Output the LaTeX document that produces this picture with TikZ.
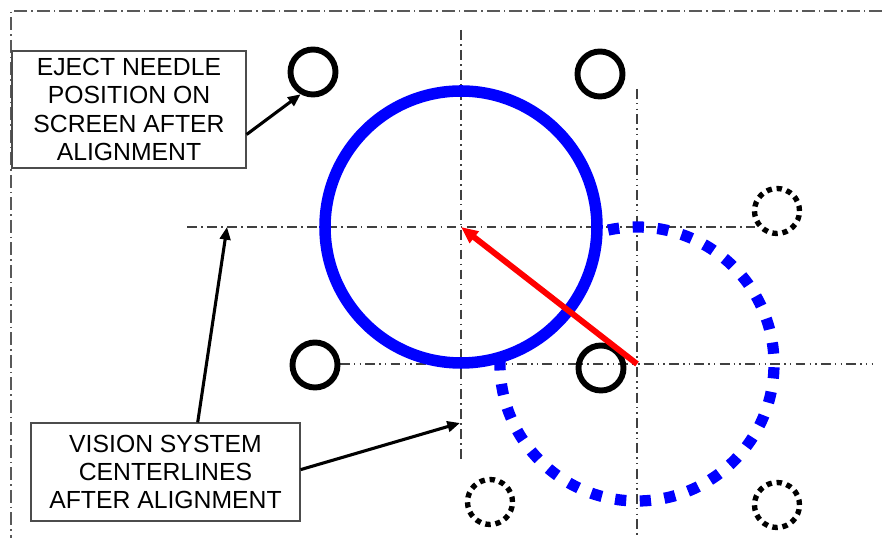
\documentclass[tikz,border=0pt]{standalone}
\usepackage{fontspec}
\setmainfont{Liberation Sans}
\usetikzlibrary{arrows.meta}
\definecolor{ringblue}{RGB}{0,0,255}
\definecolor{vecred}{RGB}{255,0,0}

\begin{document}
\begin{tikzpicture}[x=0.025cm, y=0.025cm, every node/.style={font=\fontsize{17.6}{20}\selectfont}]
  \tikzset{
    hole/.style={circle, draw, line width=4.2pt, minimum size=1.125cm, inner sep=0pt},
    oldhole/.style={hole, line width=3.8pt, dash pattern=on 3.8pt off 3.4pt},
    frameline/.style={black!65, line width=0.9pt, dash pattern=on 9pt off 3pt on 1pt off 3pt},
    centerline/.style={black!75, line width=0.9pt, dash pattern=on 7pt off 3pt on 1.2pt off 3pt},
    centerlinedd/.style={black!75, line width=0.9pt, dash pattern=on 7pt off 3pt on 1pt off 3pt on 1pt off 3pt},
    callout/.style={draw=black!70, line width=0.8pt, align=center, inner sep=0pt},
    leader/.style={-{Triangle[length=9pt,width=7.5pt]}, line width=2.2pt}
  }
  \useasboundingbox (0,0) rectangle (882,538);

  % --- frame (top and left edges only) ---
  \draw[frameline] (882,527) -- (11,527) -- (11,0);

  % --- vision system centerlines ---
  \coordinate (ctrOld) at (461,311);
  \coordinate (ctrNew) at (637,174);
  \draw[centerline] (461,508) -- (461,75);
  \draw[centerline] (187,311) -- (755,311);
  \draw[centerlinedd] (637,449) -- (637,0);
  \draw[centerlinedd] (340,174) -- (872,174);

  % --- wafer rings: before (dotted) and after alignment ---
  \draw[ringblue, line width=8.2pt] (ctrOld) circle[radius=136];
  \draw[ringblue, line width=8pt, dash pattern=on 8pt off 9.6pt]
    (ctrNew) ++(178:137) arc[start angle=178, end angle=466, radius=137];

  % --- eject needle positions ---
  \node[hole] (holeA) at (313,466) {};
  \node[hole] (holeB) at (600,464) {};
  \node[hole] (holeC) at (315,173) {};
  \node[hole] (holeD) at (601,170) {};
  \node[oldhole] (oldA) at (777,327) {};
  \node[oldhole] (oldB) at (490,36) {};
  \node[oldhole] (oldC) at (777,33) {};

  % --- offset vector ---
  \draw[vecred, line width=4.2pt, -{Triangle[length=12pt,width=10pt]}] (ctrNew) -- (ctrOld);

  % --- callouts ---
  \node[callout, minimum width=5.85cm, minimum height=2.925cm] (eject) at (129,428.5)
    {EJECT NEEDLE\\POSITION ON\\SCREEN AFTER\\ALIGNMENT};
  \node[callout, minimum width=6.725cm, minimum height=2.45cm] (vision) at (165.5,66)
    {VISION SYSTEM\\CENTERLINES\\AFTER ALIGNMENT};
  \coordinate (tipH) at (227,311);
  \coordinate (tipV) at (460,115);
  \draw[leader] (eject.-12) -- (holeA.241);
  \draw[leader] (vision.57) -- (tipH);
  \draw[leader] (vision.1) -- (tipV);
\end{tikzpicture}
\end{document}
